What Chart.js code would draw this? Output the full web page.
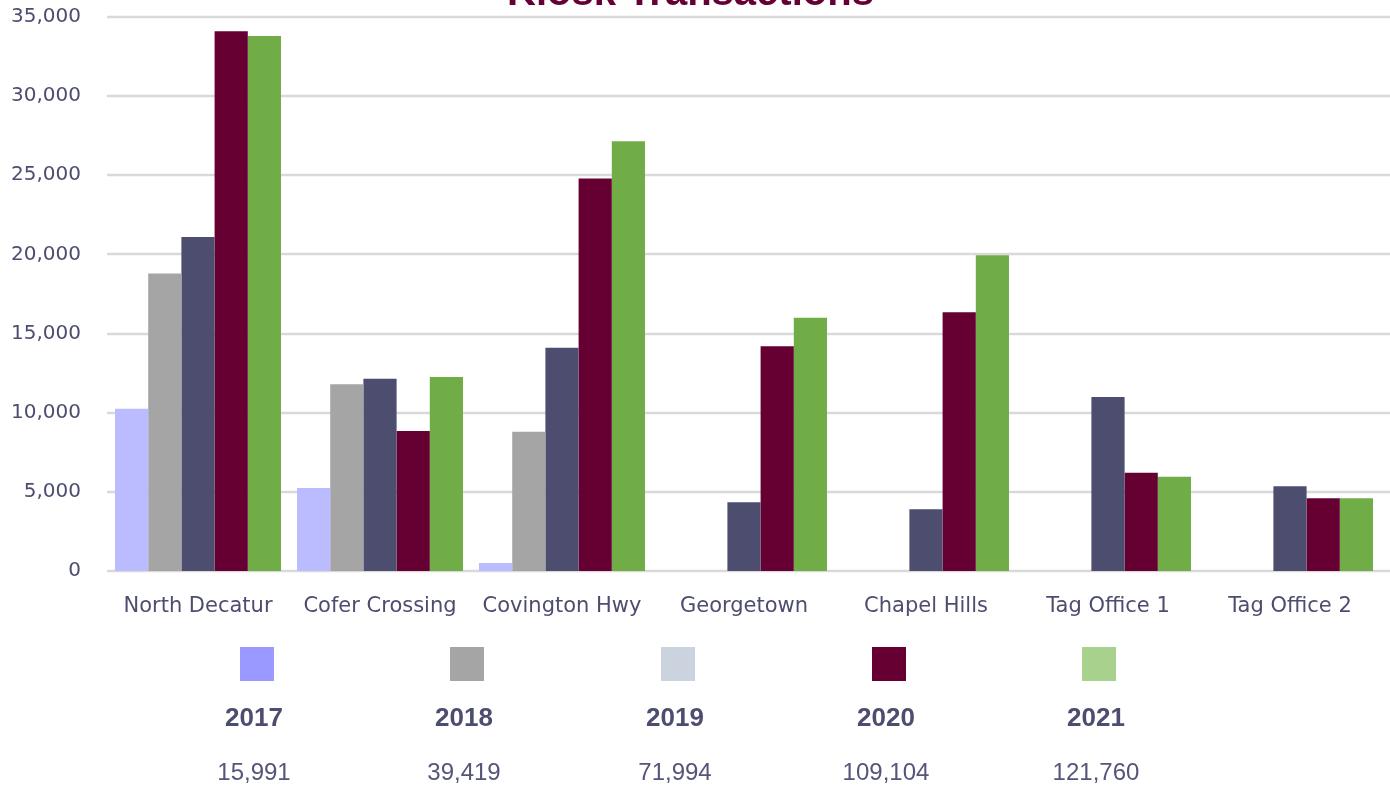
<!DOCTYPE html>
<html>
<head>
<meta charset="utf-8">
<script src="https://cdn.jsdelivr.net/npm/chart.js@4/dist/chart.umd.min.js"></script>
<style>
  html, body { margin: 0; padding: 0; background: #fff; }
  #frame { position: relative; width: 1390px; height: 786px; overflow: hidden; }
  #chartBox { position: absolute; left: 0; top: -29px; width: 1390px; height: 815px; }
  .legend-col { position: absolute; width: 160px; text-align: center; color: #4d4d70; }
  .legend-swatch { position: absolute; width: 34px; height: 34px; top: 647px; }
  .legend-year { position: absolute; top: 702px; font: bold 26px "Liberation Sans", Arial, sans-serif; }
  .legend-total { position: absolute; top: 758px; font: 24px "Liberation Sans", Arial, sans-serif; color: #55557a; }
</style>
</head>
<body>
<div id="frame">
  <div id="chartBox"><canvas id="kioskChart" width="1390" height="815"></canvas></div>
  <div id="legendRow"></div>
</div>
<script>
// Chart data
const locations = ['North Decatur', 'Cofer Crossing', 'Covington Hwy', 'Georgetown', 'Chapel Hills', 'Tag Office 1', 'Tag Office 2'];
const years = ['2017', '2018', '2019', '2020', '2021'];
const values2017 = [10250, 5250, 500, null, null, null, null];
const values2018 = [18800, 11800, 8800, null, null, null, null];
const values2019 = [21100, 12150, 14100, 4350, 3900, 11000, 5350];
const values2020 = [34100, 8850, 24800, 14200, 16350, 6200, 4600];
const values2021 = [33800, 12250, 27150, 16000, 19950, 5950, 4600];
const yearTotals = [15991, 39419, 71994, 109104, 121760];
const yTicks = [0, 5000, 10000, 15000, 20000, 25000, 30000, 35000];

const barColors = ['#bbbbff', '#a5a5a5', '#4d4d6f', '#660033', '#70ad47'];
const legendColors = ['#9999ff', '#a5a5a5', '#cbd3de', '#660033', '#a9d18e'];
const textColor = '#4d4d70';

const seriesValues = [values2017, values2018, values2019, values2020, values2021];

// Gridlines run a little past the plot area on the right, like the original
const extendedGrid = {
    id: 'extendedGrid',
    beforeDatasetsDraw(chart) {
        const ctx = chart.ctx;
        const yScale = chart.scales.y;
        ctx.save();
        ctx.strokeStyle = '#d9d9d9';
        ctx.lineWidth = 2.5;
        yScale.ticks.forEach(t => {
            const y = Math.round(yScale.getPixelForValue(t.value));
            ctx.beginPath();
            ctx.moveTo(chart.chartArea.left, y);
            ctx.lineTo(chart.width, y);
            ctx.stroke();
        });
        ctx.restore();
    }
};

new Chart(document.getElementById('kioskChart'), {
    type: 'bar',
    data: {
        labels: locations,
        datasets: years.map((yr, i) => ({
            label: yr,
            data: seriesValues[i],
            backgroundColor: barColors[i],
            borderWidth: 0,
            categoryPercentage: 0.912,
            barPercentage: 1.0
        }))
    },
    options: {
        responsive: false,
        maintainAspectRatio: false,
        animation: false,
        events: [],
        layout: {
            padding: { left: 0, right: 9, top: 0, bottom: 155 }
        },
        plugins: {
            legend: { display: false },
            tooltip: { enabled: false },
            title: {
                display: true,
                text: 'Kiosk Transactions',
                color: '#660033',
                font: { family: '"Liberation Sans", Arial, sans-serif', size: 40, weight: 'bold', lineHeight: 1.15 },
                padding: { top: 0, bottom: 0 }
            }
        },
        scales: {
            y: {
                min: 0,
                max: 35000,
                afterBuildTicks(scale) {
                    scale.ticks = yTicks.map(v => ({ value: v }));
                },
                afterFit(scale) {
                    scale.width = 107;
                },
                ticks: {
                    padding: 26,
                    color: textColor,
                    font: { family: '"DejaVu Sans", sans-serif', size: 20 },
                    callback: v => v.toLocaleString('en-US')
                },
                grid: { display: false, drawTicks: false },
                border: { display: false }
            },
            x: {
                afterFit(scale) {
                    scale.height = 60;
                },
                ticks: {
                    padding: 23,
                    color: textColor,
                    font: { family: '"DejaVu Sans", sans-serif', size: 21 }
                },
                grid: { display: false, drawTicks: false },
                border: { display: false }
            }
        }
    },
    plugins: [extendedGrid]
});

// Year legend with totals under the chart
const legendRow = document.getElementById('legendRow');
const colCenters = [254, 464, 675, 886, 1096];
years.forEach((yr, i) => {
    const sw = document.createElement('div');
    sw.className = 'legend-swatch';
    sw.style.left = (colCenters[i] + 3 - 17) + 'px';
    sw.style.background = legendColors[i];
    legendRow.appendChild(sw);

    const lab = document.createElement('div');
    lab.className = 'legend-col legend-year';
    lab.style.left = (colCenters[i] - 80) + 'px';
    lab.textContent = yr;
    legendRow.appendChild(lab);

    const tot = document.createElement('div');
    tot.className = 'legend-col legend-total';
    tot.style.left = (colCenters[i] - 80) + 'px';
    tot.textContent = yearTotals[i].toLocaleString('en-US');
    legendRow.appendChild(tot);
});
</script>
</body>
</html>
